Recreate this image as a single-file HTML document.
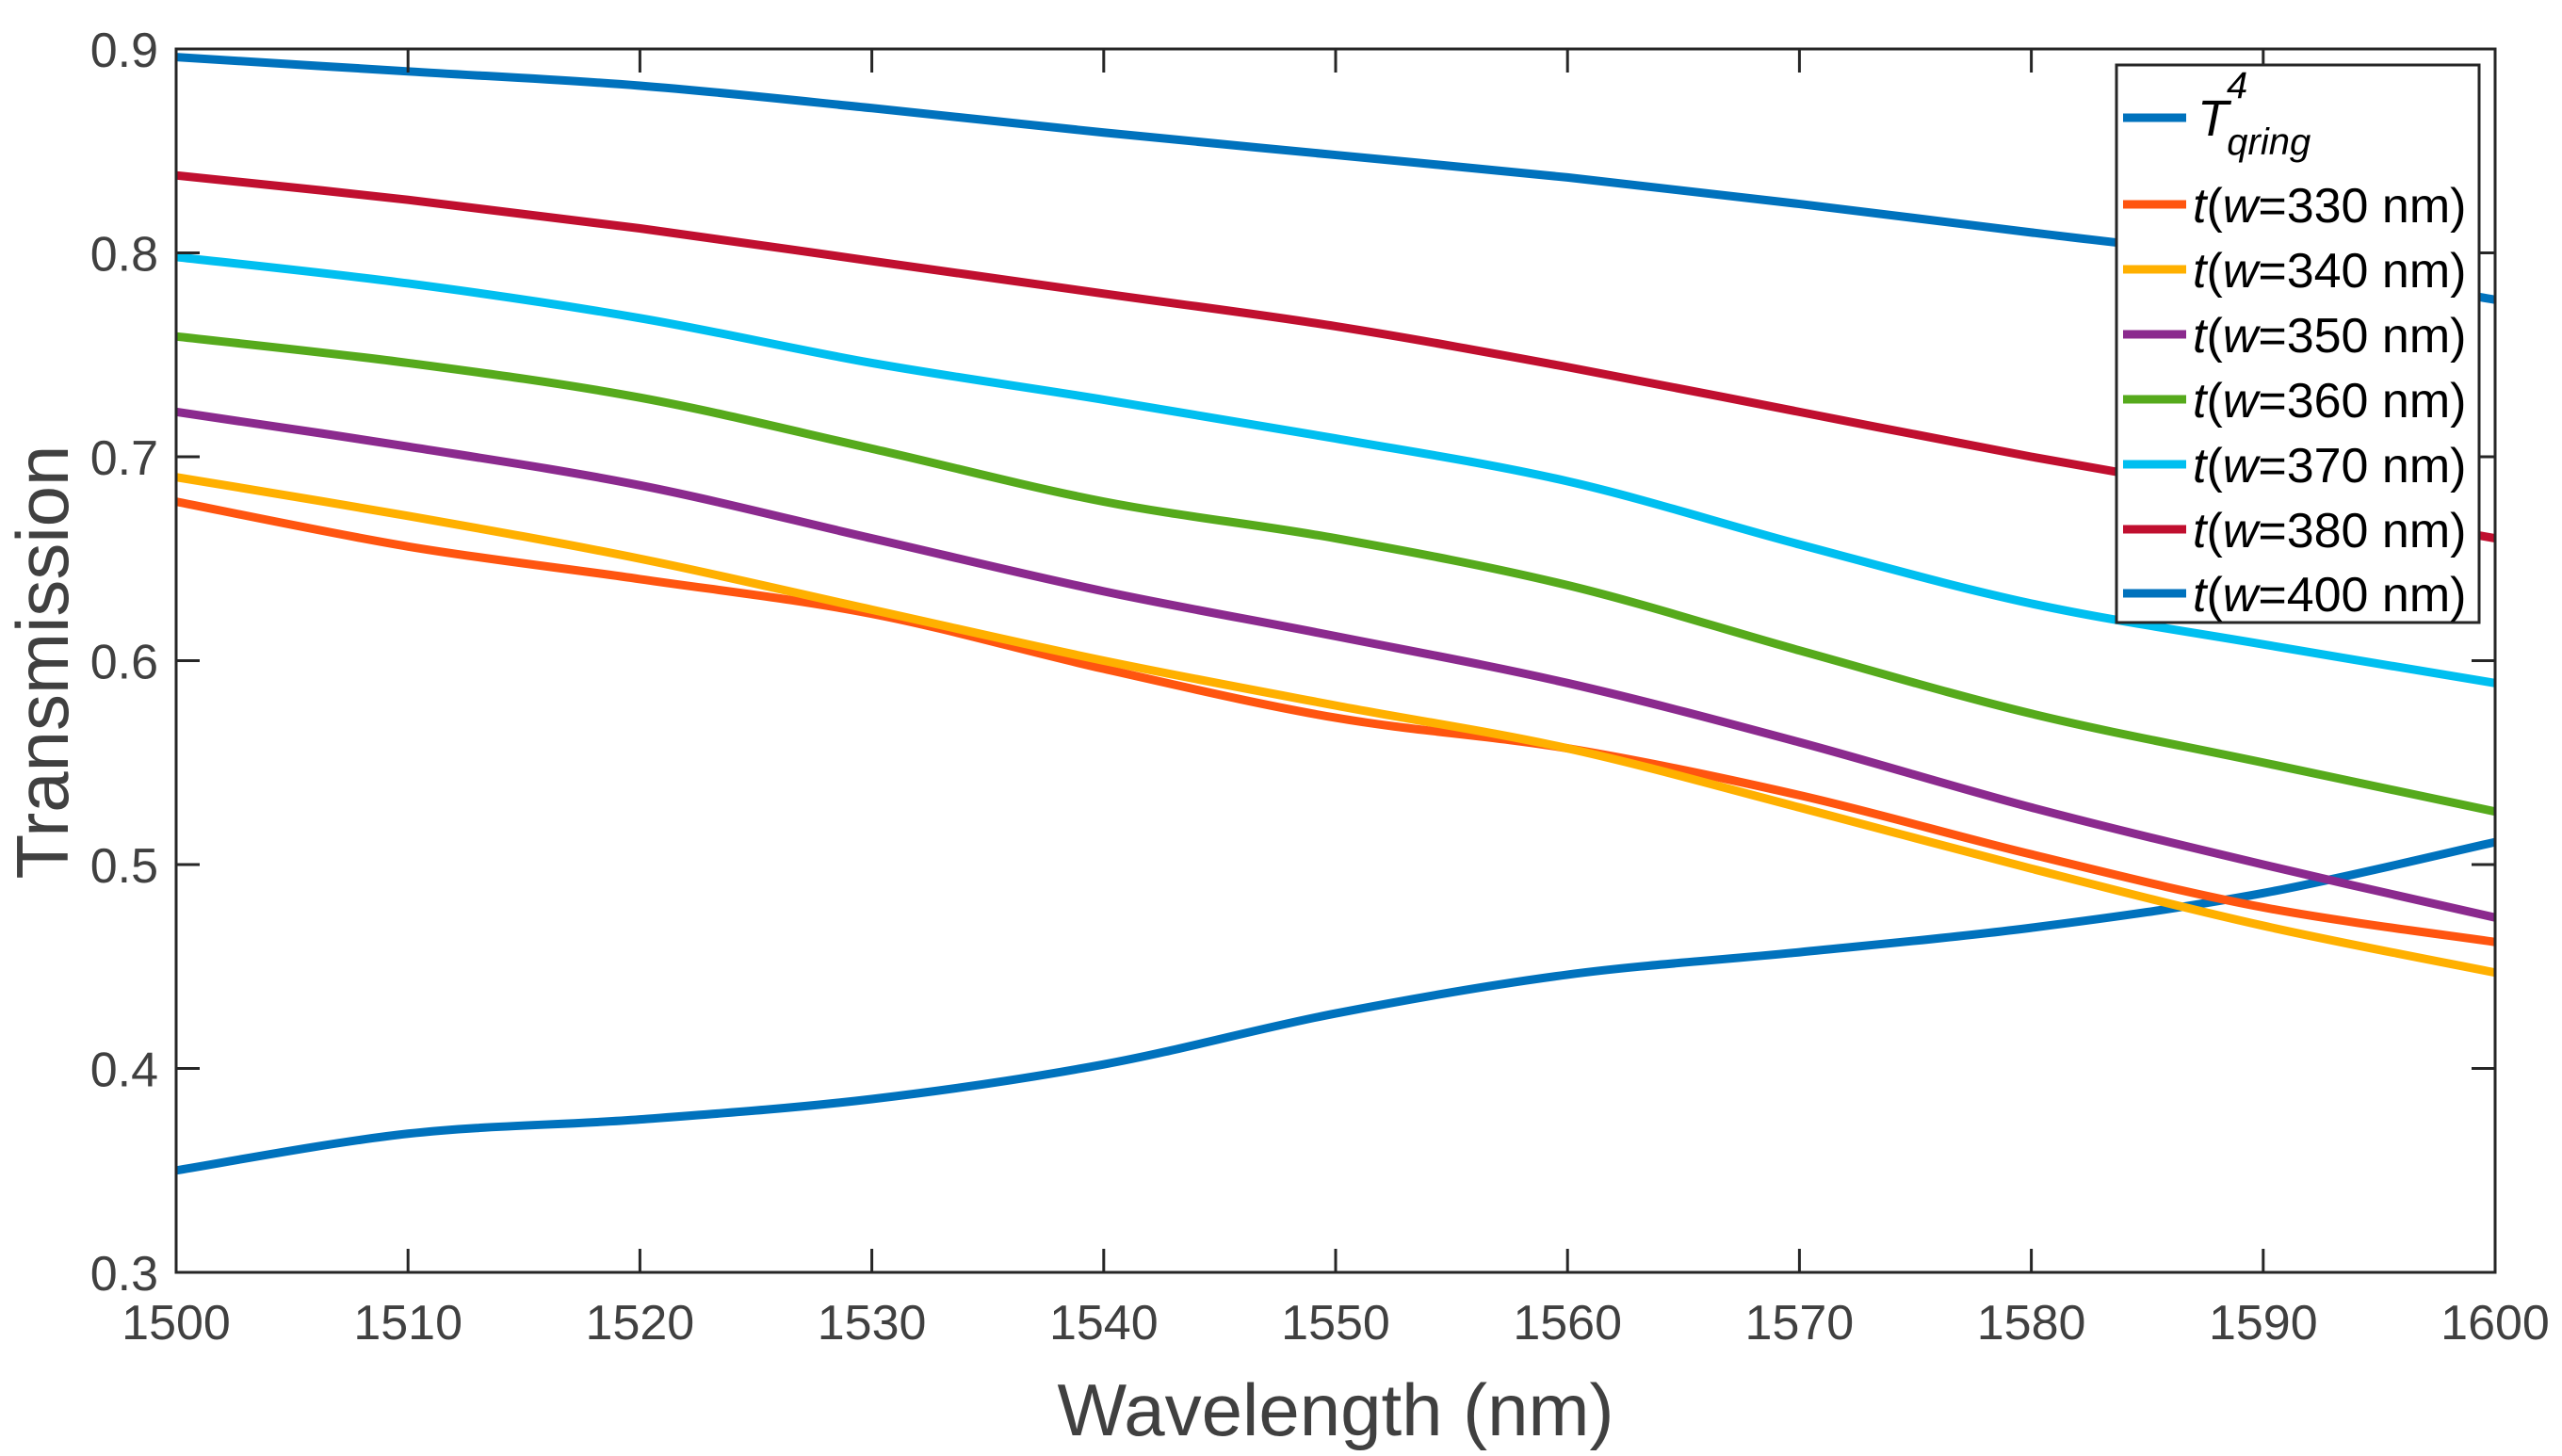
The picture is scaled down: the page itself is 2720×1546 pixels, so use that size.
<!DOCTYPE html>
<html><head><meta charset="utf-8"><style>
html,body{margin:0;padding:0;background:#fff;width:2720px;height:1546px;overflow:hidden}
svg text{font-family:"Liberation Sans",Arial,sans-serif}
</style></head><body>
<svg id="chart" width="2720" height="1546" xmlns="http://www.w3.org/2000/svg">
<g id="plot"></g>
<g id="axes"></g>
<g id="legend"></g>
</svg>
<script>
const wavelengths=[1500,1510,1520,1530,1540,1550,1560,1570,1580,1590,1600];
const tqring=[0.350,0.368,0.375,0.385,0.402,0.427,0.446,0.457,0.469,0.486,0.511];
const t330=[0.678,0.656,0.640,0.623,0.596,0.572,0.557,0.534,0.505,0.479,0.462];
const t340=[0.690,0.671,0.650,0.625,0.600,0.578,0.557,0.528,0.498,0.470,0.447];
const t350=[0.722,0.705,0.686,0.660,0.634,0.612,0.589,0.560,0.528,0.500,0.474];
const t360=[0.759,0.746,0.729,0.704,0.678,0.660,0.637,0.605,0.574,0.550,0.526];
const t370=[0.798,0.785,0.768,0.746,0.728,0.709,0.688,0.657,0.628,0.608,0.589];
const t380=[0.838,0.826,0.812,0.796,0.780,0.764,0.744,0.722,0.700,0.680,0.660];
const t400=[0.896,0.889,0.882,0.871,0.859,0.848,0.837,0.824,0.810,0.796,0.777];
const xTicks=[1500,1510,1520,1530,1540,1550,1560,1570,1580,1590,1600];
const yTicks=[0.3,0.4,0.5,0.6,0.7,0.8,0.9];

const NS="http://www.w3.org/2000/svg";
const L=187,R=2649,T=52,B=1351;
const X=v=>L+(v-1500)/100*(R-L);
const Y=v=>B-(v-0.3)/0.6*(B-T);
function mk(tag,attrs,parent){const e=document.createElementNS(NS,tag);for(const k in attrs)e.setAttribute(k,attrs[k]);parent.appendChild(e);return e;}
const plot=document.getElementById('plot'),axes=document.getElementById('axes'),leg=document.getElementById('legend');

const series=[
 {name:'tqring',vals:tqring,color:'#0072BD'},
 {name:'t330',vals:t330,color:'#FF5510'},
 {name:'t340',vals:t340,color:'#FFB000'},
 {name:'t350',vals:t350,color:'#8B2A8E'},
 {name:'t360',vals:t360,color:'#56AA1C'},
 {name:'t370',vals:t370,color:'#00BFF0'},
 {name:'t380',vals:t380,color:'#C00F2F'},
 {name:'t400',vals:t400,color:'#0072BD'}
];
function pathFor(vals){
 const p=wavelengths.map((w,i)=>[X(w),Y(vals[i])]);
 let d='M'+p[0][0]+','+p[0][1];
 for(let i=0;i<p.length-1;i++){
  const p0=p[Math.max(i-1,0)],p1=p[i],p2=p[i+1],p3=p[Math.min(i+2,p.length-1)];
  const c1=[p1[0]+(p2[0]-p0[0])/6,p1[1]+(p2[1]-p0[1])/6];
  const c2=[p2[0]-(p3[0]-p1[0])/6,p2[1]-(p3[1]-p1[1])/6];
  d+=' C'+c1+' '+c2+' '+p2;
 }
 return d;
}
mk('clipPath',{id:'clip'},plot).appendChild(document.createElementNS(NS,'rect'));
const cr=plot.querySelector('clipPath rect');cr.setAttribute('x',L);cr.setAttribute('y',T);cr.setAttribute('width',R-L);cr.setAttribute('height',B-T);
series.forEach(s=>{
 const e=mk('path',{d:pathFor(s.vals),fill:'none',stroke:s.color,'stroke-width':9,'clip-path':'url(#clip)'},plot);
 
 
});

const box=mk('rect',{x:L,y:T,width:R-L,height:B-T,fill:'none',stroke:'#262626','stroke-width':3},axes);


xTicks.forEach(t=>{
 const x=X(t);
 mk('line',{x1:x,y1:B,x2:x,y2:B-25,stroke:'#262626','stroke-width':3},axes);
 mk('line',{x1:x,y1:T,x2:x,y2:T+25,stroke:'#262626','stroke-width':3},axes);
 const tx=mk('text',{x:x,y:1422,'font-size':52,fill:'#404040','text-anchor':'middle'},axes);
 tx.textContent=t;
 
 
});
yTicks.forEach(t=>{
 const y=Y(t);
 mk('line',{x1:L,y1:y,x2:L+25,y2:y,stroke:'#262626','stroke-width':3},axes);
 mk('line',{x1:R,y1:y,x2:R-25,y2:y,stroke:'#262626','stroke-width':3},axes);
 const tx=mk('text',{x:168,y:y+19,'font-size':52,fill:'#404040','text-anchor':'end'},axes);
 tx.textContent=t.toFixed(1);
 
 
});
const xt=mk('text',{x:(L+R)/2,y:1524,'font-size':78,fill:'#404040','text-anchor':'middle'},axes);
xt.textContent='Wavelength (nm)';


const yt=mk('text',{x:0,y:0,'font-size':78,fill:'#404040','text-anchor':'middle',transform:'translate(72,703) rotate(-90)'},axes);
yt.textContent='Transmission';



mk('rect',{x:2247,y:69,width:385,height:592,fill:'#fff',stroke:'#262626','stroke-width':3},leg);
const rowsY=[125,217,286,355,424,493,562,630];
const labels=['330','340','350','360','370','380','400'];
series.forEach((s,i)=>{
 const g=mk('g',{},leg);
 
 
 const y=rowsY[i];
 mk('line',{x1:2254,y1:y,x2:2321,y2:y,stroke:s.color,'stroke-width':9},g);
 if(i===0){
  const t=mk('text',{x:2333,y:y+19,'font-size':54,fill:'#000','font-style':'italic'},g);
  t.innerHTML='T<tspan dx="-2" dy="-40" font-size="40">4</tspan><tspan dx="-22" dy="60" font-size="40">qring</tspan>';
 } else {
  const t=mk('text',{x:2328,y:y+19,'font-size':52,fill:'#000'},g);
  t.innerHTML='<tspan font-style="italic">t</tspan>(<tspan font-style="italic">w</tspan>='+labels[i-1]+' nm)';
 }
});
</script>
</body></html>
